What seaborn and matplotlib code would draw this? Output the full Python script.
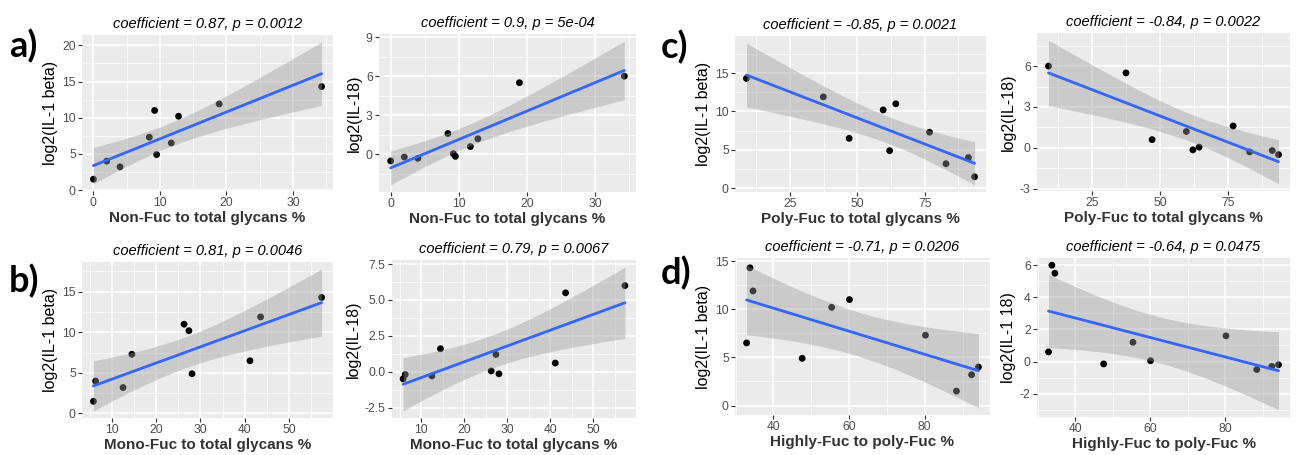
import numpy as np
import pandas as pd
import matplotlib
matplotlib.use("Agg")
import matplotlib.pyplot as plt
import seaborn as sns
from matplotlib.ticker import MultipleLocator, FormatStrFormatter

# ---- data (10 samples, same order in every array) ----
non_fuc = [0.0, 2.0, 4.0, 8.4, 9.2, 9.5, 11.7, 12.8, 18.9, 34.3]
mono_fuc = [5.8, 6.3, 12.5, 14.5, 26.3, 28.1, 41.2, 27.4, 43.6, 57.4]
poly_fuc = [93.5, 91.2, 82.9, 76.8, 64.3, 62.0, 47.0, 59.6, 37.4, 8.9]
highly_fuc = [88.4, 94.2, 92.4, 80.2, 60.1, 47.6, 32.9, 55.4, 34.6, 33.8]
il1_beta = [1.5, 4.0, 3.2, 7.3, 11.0, 4.9, 6.5, 10.2, 11.9, 14.3]
il18 = [-0.5, -0.2, -0.3, 1.6, 0.05, -0.15, 0.6, 1.2, 5.5, 6.0]

titles = [
    "coefficient = 0.87, p = 0.0012", "coefficient = 0.9, p = 5e-04",
    "coefficient = -0.85, p = 0.0021", "coefficient = -0.84, p = 0.0022",
    "coefficient = 0.81, p = 0.0046", "coefficient = 0.79, p = 0.0067",
    "coefficient = -0.71, p = 0.0206", "coefficient = -0.64, p = 0.0475",
]
xlabels = [
    "Non-Fuc to total glycans %", "Non-Fuc to total glycans %",
    "Poly-Fuc to total glycans %", "Poly-Fuc to total glycans %",
    "Mono-Fuc to total glycans %", "Mono-Fuc to total glycans %",
    "Highly-Fuc to poly-Fuc %", "Highly-Fuc to poly-Fuc %",
]
ylabels = [
    "log2(IL-1 beta)", "log2(IL-18)", "log2(IL-1 beta)", "log2(IL-18)",
    "log2(IL-1 beta)", "log2(IL-18)", "log2(IL-1 beta)", "log2(IL-1 18)",
]
panel_letters = ["a)", "b)", "c)", "d)"]

xs = [non_fuc, non_fuc, poly_fuc, poly_fuc, mono_fuc, mono_fuc, highly_fuc, highly_fuc]
ys = [il1_beta, il18, il1_beta, il18, il1_beta, il18, il1_beta, il18]

# ---- layout / style ----
W, H = 1302, 455
# (left, top, right, bottom) in pixels
boxes = [
    (82, 35, 333, 191), (379, 34, 636, 192), (735, 36, 986, 192), (1037, 33, 1290, 191),
    (82, 262, 333, 418), (392, 260, 636, 418), (735, 258, 990, 415), (1037, 258, 1290, 417),
]
xsteps = [10, 10, 25, 25, 10, 10, 20, 20]
ysteps = [5, 3, 5, 3, 5, 2.5, 5, 2]
yfmts = ["%d", "%d", "%d", "%d", "%d", "%.1f", "%d", "%d"]
letter_pos = [(9, 46), (9, 281), (661, 47), (661, 273)]

sns.set_theme(style="darkgrid")
plt.rcParams["font.family"] = ["Liberation Sans", "DejaVu Sans"]
plt.rcParams["axes.unicode_minus"] = False

T_CRIT = 2.306  # t(0.975, df=8) for n=10

fig = plt.figure(figsize=(W / 100, H / 100), dpi=100)
fig.patch.set_facecolor("white")

for i in range(8):
    l, t, r, b = boxes[i]
    ax = fig.add_axes([l / W, 1 - b / H, (r - l) / W, (b - t) / H])
    ax.set_facecolor("#EBEBEB")
    df = pd.DataFrame({"x": xs[i], "y": ys[i]})

    # analytic 95% confidence band (like ggplot geom_smooth(method="lm"))
    x = df["x"].to_numpy(); y = df["y"].to_numpy()
    n = len(x)
    slope, intercept = np.polyfit(x, y, 1)
    resid = y - (slope * x + intercept)
    s = np.sqrt(np.sum(resid ** 2) / (n - 2))
    grid = np.linspace(x.min(), x.max(), 200)
    se = s * np.sqrt(1 / n + (grid - x.mean()) ** 2 / np.sum((x - x.mean()) ** 2))
    fit = slope * grid + intercept
    lo, hi = fit - T_CRIT * se, fit + T_CRIT * se

    sns.scatterplot(data=df, x="x", y="y", ax=ax, color="black", s=24,
                    edgecolor="none", zorder=2, legend=False)
    ax.fill_between(grid, lo, hi, color="#999999", alpha=0.4, linewidth=0, zorder=3)
    sns.regplot(data=df, x="x", y="y", ax=ax, scatter=False, ci=None,
                line_kws={"color": "#3366FF", "lw": 2.0, "zorder": 4})

    # ggplot-like limits with 5% expansion
    xr = x.max() - x.min()
    ax.set_xlim(x.min() - 0.05 * xr, x.max() + 0.05 * xr)
    ymin = min(y.min(), lo.min()); ymax = max(y.max(), hi.max())
    yr = ymax - ymin
    ax.set_ylim(ymin - 0.05 * yr, ymax + 0.05 * yr)

    ax.xaxis.set_major_locator(MultipleLocator(xsteps[i]))
    ax.xaxis.set_minor_locator(MultipleLocator(xsteps[i] / 2))
    ax.yaxis.set_major_locator(MultipleLocator(ysteps[i]))
    ax.yaxis.set_minor_locator(MultipleLocator(ysteps[i] / 2))
    ax.yaxis.set_major_formatter(FormatStrFormatter(yfmts[i]))
    ax.grid(which="major", color="white", linewidth=1.1)
    ax.grid(which="minor", color="white", linewidth=0.55)
    ax.set_axisbelow(True)
    for sp in ax.spines.values():
        sp.set_visible(False)
    ax.tick_params(which="major", length=3, width=0.8, color="#333333",
                   labelsize=8.7, labelcolor="#4D4D4D", pad=1.5,
                   bottom=True, left=True)
    ax.tick_params(which="minor", length=0)

    ax.set_title(titles[i], fontsize=10.5, style="italic", pad=5, color="black")
    ax.set_xlabel(xlabels[i], fontsize=11, fontweight="bold", color="#333333", labelpad=1)
    ax.set_ylabel(ylabels[i], fontsize=11.5, color="black", labelpad=3)

for lbl, (px, py) in zip(panel_letters, letter_pos):
    fig.text(px / W, 1 - py / H, lbl, fontsize=26, fontweight="bold",
             family=["Lato", "DejaVu Sans"], va="center", ha="left", color="black")

fig.savefig("out.png", dpi=100, facecolor="white")
